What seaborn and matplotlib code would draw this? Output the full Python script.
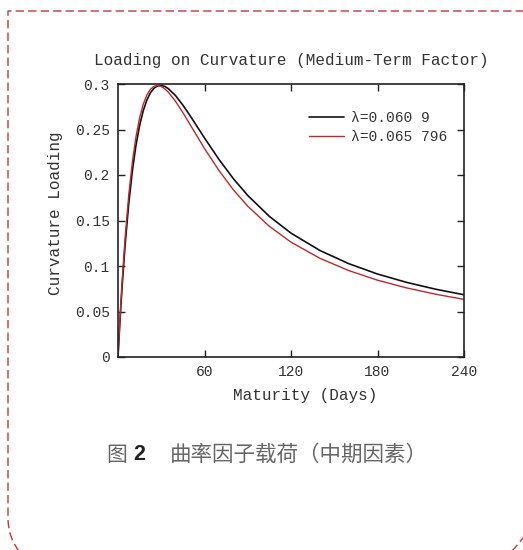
import numpy as np
import pandas as pd
import seaborn as sns
import matplotlib.pyplot as plt
from matplotlib.path import Path
from matplotlib.patches import PathPatch

# maturity in days
maturity = [0, 1, 2, 3, 5, 7.5, 10, 12.5, 15, 17.5, 20, 22.5, 25, 27.5, 30, 32.5,
            35, 40, 45, 50, 60, 70, 80, 90, 105, 120, 140, 160, 180, 200, 220, 240]

# curvature loading, lambda = 0.0609
loading_a = [0.0, 0.0292, 0.0562, 0.0810, 0.1246, 0.1694, 0.2050, 0.2330, 0.2545,
             0.2706, 0.2823, 0.2904, 0.2954, 0.2979, 0.2984, 0.2973, 0.2948, 0.2871,
             0.2768, 0.2652, 0.2407, 0.2172, 0.1960, 0.1775, 0.1545, 0.1361, 0.1171,
             0.1026, 0.0912, 0.0821, 0.0746, 0.0684]

# curvature loading, lambda = 0.065796
loading_b = [0.0, 0.0315, 0.0603, 0.0866, 0.1325, 0.1788, 0.2148, 0.2423, 0.2629,
             0.2777, 0.2879, 0.2942, 0.2975, 0.2984, 0.2973, 0.2947, 0.2909, 0.2807,
             0.2685, 0.2554, 0.2291, 0.2050, 0.1838, 0.1657, 0.1436, 0.1262, 0.1085,
             0.0950, 0.0844, 0.0760, 0.0691, 0.0633]

labels = ["λ=0.060 9", "λ=0.065 796"]
colors = ["#111111", "#c0272d"]

x_ticks = [60, 120, 180, 240]
y_ticks = [0, 0.05, 0.1, 0.15, 0.2, 0.25, 0.3]
y_ticklabels = ["0", "0.05", "0.1", "0.15", "0.2", "0.25", "0.3"]

sns.set_style("ticks")
plt.rcParams["font.family"] = ["Liberation Mono", "DejaVu Sans"]

W, H = 523, 550
fig = plt.figure(figsize=(W / 100, H / 100), dpi=100)
ax = fig.add_axes([118 / W, 1 - 357 / H, 346 / W, 273 / H])

df = pd.DataFrame({"maturity": maturity, "a": loading_a, "b": loading_b})
sns.lineplot(data=df, x="maturity", y="a", color=colors[0], lw=1.2, label=labels[0], ax=ax)
sns.lineplot(data=df, x="maturity", y="b", color=colors[1], lw=1.0, label=labels[1], ax=ax)

ax.set_xlim(0, 240)
ax.set_ylim(0, 0.3)
ax.set_xticks(x_ticks)
ax.set_yticks(y_ticks)
ax.set_yticklabels(y_ticklabels)
ax.tick_params(direction="in", top=True, right=True, length=5, width=1,
               labelsize=10.5, labelcolor="#333333", colors="#222222", pad=6)
for s in ax.spines.values():
    s.set_linewidth(1.2)
    s.set_color("#222222")

ax.set_title("Loading on Curvature (Medium-Term Factor)", fontsize=11.5,
             color="#333333", pad=14)
ax.set_xlabel("Maturity (Days)", fontsize=11.5, color="#333333")
ax.xaxis.set_label_coords(0.54, -0.115)
ax.set_ylabel("Curvature Loading", fontsize=11.5, color="#333333")
ax.yaxis.set_label_coords(-0.16, 0.527)

leg = ax.legend(loc="upper right", bbox_to_anchor=(0.99, 0.95), frameon=False,
                fontsize=10.5, handlelength=2.4, handletextpad=0.5, labelspacing=0.35)
for t in leg.get_texts():
    t.set_color("#333333")

# caption
cap_font = ["Noto Sans CJK SC", "DejaVu Sans"]
fig.text(106 / W, 1 - 455 / H, "图", fontsize=15, color="#666666", family=cap_font, va="center")
fig.text(133 / W, 1 - 455 / H, "2", fontsize=15.5, color="#222222", family=["Liberation Sans"],
         fontweight="bold", va="center")
fig.text(170 / W, 1 - 455 / H, "曲率因子载荷（中期因素）", fontsize=15.5, color="#666666",
         family=cap_font, va="center")


# dashed border
def px(x, y):
    return (x / W, 1 - y / H)


border = Path([px(W + 2, 11), px(8, 11), px(8, 520), px(9, 540), px(20, 552)],
              [Path.MOVETO, Path.LINETO, Path.LINETO, Path.CURVE3, Path.CURVE3])
fig.add_artist(PathPatch(border, transform=fig.transFigure, fill=False,
                         edgecolor="#c8323c", lw=1.0, ls=(0, (6, 3))))
corner = Path([px(W + 2, 535), px(518, 545), px(511, 552)],
              [Path.MOVETO, Path.CURVE3, Path.CURVE3])
fig.add_artist(PathPatch(corner, transform=fig.transFigure, fill=False,
                         edgecolor="#c8323c", lw=1.0, ls=(0, (6, 3))))

fig.savefig("out.png", dpi=100)
